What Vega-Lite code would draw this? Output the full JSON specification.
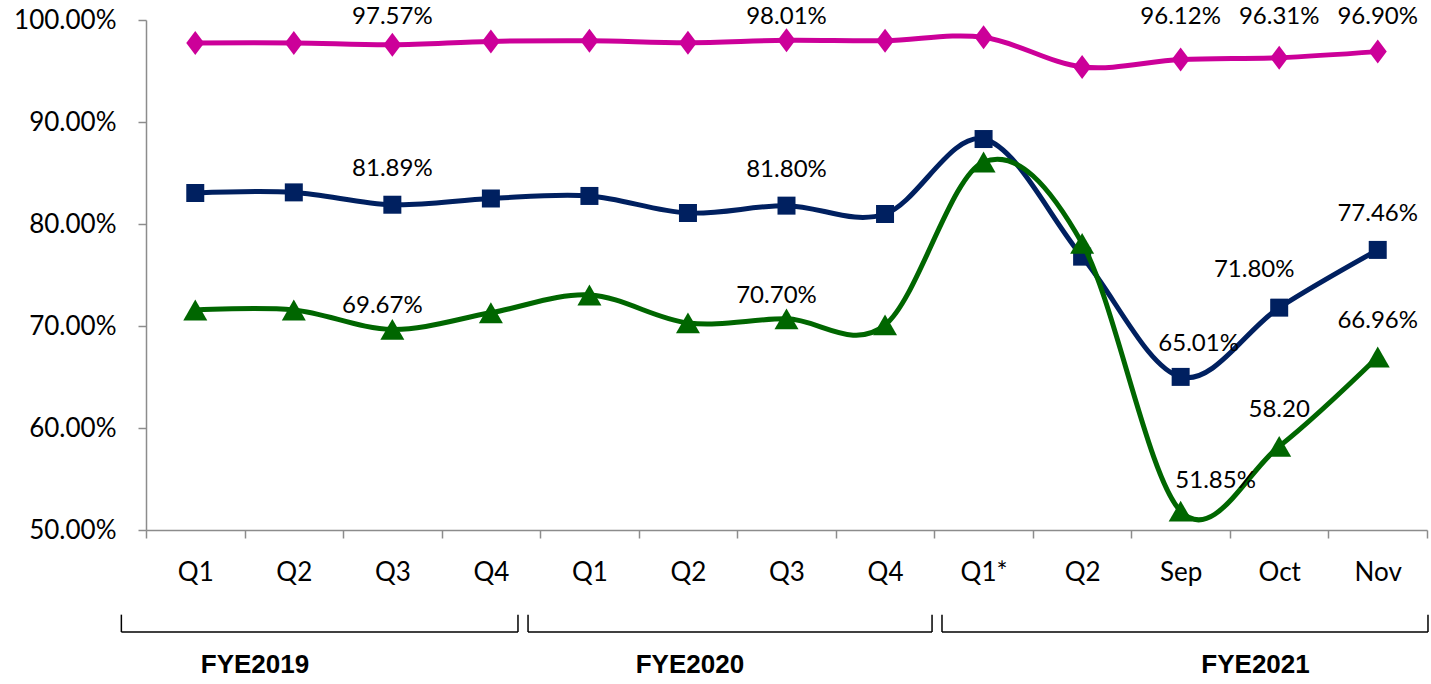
{
  "$schema": "https://vega.github.io/schema/vega-lite/v6.json",
  "width": 1281,
  "height": 510,
  "autosize": "none",
  "padding": {"left": 146, "top": 20, "right": 4, "bottom": 154},
  "background": "white",
  "config": {"view": {"stroke": null}, "font": "Lato"},
  "datasets": {
    "series": [
      {"i": 0.5, "s": "pink", "v": 97.75, "lab": ""},
      {"i": 1.5, "s": "pink", "v": 97.75, "lab": ""},
      {"i": 2.5, "s": "pink", "v": 97.57, "lab": "97.57%"},
      {"i": 3.5, "s": "pink", "v": 97.9, "lab": ""},
      {"i": 4.5, "s": "pink", "v": 97.97, "lab": ""},
      {"i": 5.5, "s": "pink", "v": 97.78, "lab": ""},
      {"i": 6.5, "s": "pink", "v": 98.01, "lab": "98.01%"},
      {"i": 7.5, "s": "pink", "v": 97.97, "lab": ""},
      {"i": 8.5, "s": "pink", "v": 98.3, "lab": ""},
      {"i": 9.5, "s": "pink", "v": 95.4, "lab": ""},
      {"i": 10.5, "s": "pink", "v": 96.12, "lab": "96.12%"},
      {"i": 11.5, "s": "pink", "v": 96.31, "lab": "96.31%"},
      {"i": 12.5, "s": "pink", "v": 96.9, "lab": "96.90%"},
      {"i": 0.5, "s": "navy", "v": 83.04, "lab": ""},
      {"i": 1.5, "s": "navy", "v": 83.1, "lab": ""},
      {"i": 2.5, "s": "navy", "v": 81.89, "lab": "81.89%"},
      {"i": 3.5, "s": "navy", "v": 82.5, "lab": ""},
      {"i": 4.5, "s": "navy", "v": 82.75, "lab": ""},
      {"i": 5.5, "s": "navy", "v": 81.08, "lab": ""},
      {"i": 6.5, "s": "navy", "v": 81.8, "lab": "81.80%"},
      {"i": 7.5, "s": "navy", "v": 80.98, "lab": ""},
      {"i": 8.5, "s": "navy", "v": 88.33, "lab": ""},
      {"i": 9.5, "s": "navy", "v": 76.8, "lab": ""},
      {"i": 10.5, "s": "navy", "v": 65.01, "lab": "65.01%"},
      {"i": 11.5, "s": "navy", "v": 71.8, "lab": "71.80%"},
      {"i": 12.5, "s": "navy", "v": 77.46, "lab": "77.46%"},
      {"i": 0.5, "s": "green", "v": 71.57, "lab": ""},
      {"i": 1.5, "s": "green", "v": 71.57, "lab": ""},
      {"i": 2.5, "s": "green", "v": 69.67, "lab": "69.67%"},
      {"i": 3.5, "s": "green", "v": 71.3, "lab": ""},
      {"i": 4.5, "s": "green", "v": 73.04, "lab": ""},
      {"i": 5.5, "s": "green", "v": 70.3, "lab": ""},
      {"i": 6.5, "s": "green", "v": 70.7, "lab": "70.70%"},
      {"i": 7.5, "s": "green", "v": 70.1, "lab": ""},
      {"i": 8.5, "s": "green", "v": 86.08, "lab": ""},
      {"i": 9.5, "s": "green", "v": 78.1, "lab": ""},
      {"i": 10.5, "s": "green", "v": 51.85, "lab": "51.85%"},
      {"i": 11.5, "s": "green", "v": 58.2, "lab": "58.20"},
      {"i": 12.5, "s": "green", "v": 66.96, "lab": "66.96%"}
    ],
    "brackets": [
      {"i": -0.25, "i2": 3.775, "v": 40, "v2": 40},
      {"i": -0.25, "i2": -0.25, "v": 40, "v2": 41.7},
      {"i": 3.775, "i2": 3.775, "v": 40, "v2": 41.7},
      {"i": 3.877, "i2": 7.977, "v": 40, "v2": 40},
      {"i": 3.877, "i2": 3.877, "v": 40, "v2": 41.7},
      {"i": 7.977, "i2": 7.977, "v": 40, "v2": 41.7},
      {"i": 8.078, "i2": 13.01, "v": 40, "v2": 40},
      {"i": 8.078, "i2": 8.078, "v": 40, "v2": 41.7},
      {"i": 13.01, "i2": 13.01, "v": 40, "v2": 41.7}
    ],
    "groups": [
      {"i": 1.106, "v": 36.76, "name": "FYE2019"},
      {"i": 5.52, "v": 36.76, "name": "FYE2020"},
      {"i": 11.26, "v": 36.76, "name": "FYE2021"}
    ]
  },
  "encoding": {
    "x": {
      "field": "i",
      "type": "quantitative",
      "scale": {"domain": [0, 13], "nice": false, "zero": false},
      "axis": {
        "title": null,
        "grid": false,
        "values": [0, 0.5, 1, 1.5, 2, 2.5, 3, 3.5, 4, 4.5, 5, 5.5, 6, 6.5, 7, 7.5, 8, 8.5, 9, 9.5, 10, 10.5, 11, 11.5, 12, 12.5, 13],
        "domainColor": "#8c8c8c",
        "domainWidth": 1.5,
        "tickColor": "#8c8c8c",
        "tickWidth": 1.5,
        "tickSize": 8,
        "tickOpacity": {"condition": {"test": "datum.value % 1 != 0", "value": 0}, "value": 1},
        "labelExpr": "datum.value % 1 != 0 ? ['Q1','Q2','Q3','Q4','Q1','Q2','Q3','Q4','Q1*','Q2','Sep','Oct','Nov'][floor(datum.value)] : ''",
        "labelFont": "Lato",
        "labelFontSize": 26,
        "labelColor": "#000000",
        "labelPadding": 21,
        "labelOverlap": false,
        "labelFlush": false,
        "labelBound": false
      }
    },
    "y": {
      "field": "v",
      "type": "quantitative",
      "scale": {"domain": [50, 100], "nice": false, "zero": false},
      "axis": {
        "title": null,
        "grid": false,
        "values": [50, 60, 70, 80, 90, 100],
        "labelExpr": "format(datum.value, '.2f') + '%'",
        "domainColor": "#8c8c8c",
        "domainWidth": 1.5,
        "tickColor": "#8c8c8c",
        "tickWidth": 1.5,
        "tickSize": 8,
        "labelFont": "Lato",
        "labelFontSize": 26,
        "labelColor": "#000000",
        "labelPadding": 22,
        "labelOverlap": false,
        "labelFlush": false,
        "labelBound": false
      }
    }
  },
  "layer": [
    {
      "data": {"name": "series"},
      "transform": [{"filter": "datum.s == 'pink'"}],
      "mark": {"type": "line", "interpolate": "cardinal", "strokeWidth": 5, "color": "#CC0099"}
    },
    {
      "data": {"name": "series"},
      "transform": [{"filter": "datum.s == 'pink'"}],
      "mark": {"type": "point", "filled": true, "opacity": 1, "shape": "M0,-1L0.75,0L0,1L-0.75,0Z", "size": 576, "color": "#CC0099"}
    },
    {
      "data": {"name": "series"},
      "transform": [{"filter": "datum.s == 'navy'"}],
      "mark": {"type": "line", "interpolate": "cardinal", "strokeWidth": 5, "color": "#002060"}
    },
    {
      "data": {"name": "series"},
      "transform": [{"filter": "datum.s == 'navy'"}],
      "mark": {"type": "point", "filled": true, "opacity": 1, "shape": "square", "size": 324, "color": "#002060"}
    },
    {
      "data": {"name": "series"},
      "transform": [{"filter": "datum.s == 'green'"}],
      "mark": {"type": "line", "interpolate": "cardinal", "strokeWidth": 5, "color": "#006600"}
    },
    {
      "data": {"name": "series"},
      "transform": [{"filter": "datum.s == 'green'"}],
      "mark": {"type": "point", "filled": true, "opacity": 1, "shape": "triangle-up", "size": 576, "color": "#006600"}
    },
    {
      "data": {"name": "series"},
      "transform": [{"filter": "datum.s == 'pink' && datum.lab != ''"}],
      "mark": {"type": "text", "font": "Lato", "fontSize": 24, "color": "#000000", "baseline": "middle", "align": "center"},
      "encoding": {"y": {"datum": 100.28}, "text": {"field": "lab"}}
    },
    {
      "data": {"name": "series"},
      "transform": [{"filter": "(datum.s == 'navy' && (datum.i == 2.5 || datum.i == 6.5 || datum.i == 12.5)) || (datum.s == 'green' && (datum.i == 11.5 || datum.i == 12.5))"}],
      "mark": {"type": "text", "font": "Lato", "fontSize": 24, "color": "#000000", "baseline": "middle", "align": "center", "dy": -36},
      "encoding": {"text": {"field": "lab"}}
    },
    {
      "data": {"name": "series"},
      "transform": [{"filter": "datum.s == 'green' && (datum.i == 2.5 || datum.i == 6.5)"}],
      "mark": {"type": "text", "font": "Lato", "fontSize": 24, "color": "#000000", "baseline": "middle", "align": "center", "dx": -10, "dy": -23},
      "encoding": {"text": {"field": "lab"}}
    },
    {
      "data": {"name": "series"},
      "transform": [{"filter": "datum.s == 'navy' && datum.i == 10.5"}],
      "mark": {"type": "text", "font": "Lato", "fontSize": 24, "color": "#000000", "baseline": "middle", "align": "center", "dx": 18, "dy": -33},
      "encoding": {"text": {"field": "lab"}}
    },
    {
      "data": {"name": "series"},
      "transform": [{"filter": "datum.s == 'green' && datum.i == 10.5"}],
      "mark": {"type": "text", "font": "Lato", "fontSize": 24, "color": "#000000", "baseline": "middle", "align": "center", "dx": 35, "dy": -30},
      "encoding": {"text": {"field": "lab"}}
    },
    {
      "data": {"name": "series"},
      "transform": [{"filter": "datum.s == 'navy' && datum.i == 11.5"}],
      "mark": {"type": "text", "font": "Lato", "fontSize": 24, "color": "#000000", "baseline": "middle", "align": "center", "dx": -25, "dy": -38},
      "encoding": {"text": {"field": "lab"}}
    },
    {
      "data": {"name": "brackets"},
      "mark": {"type": "rule", "color": "#000000", "strokeWidth": 1.5},
      "encoding": {"x2": {"field": "i2"}, "y2": {"field": "v2"}}
    },
    {
      "data": {"name": "groups"},
      "mark": {"type": "text", "font": "Liberation Sans", "fontWeight": "bold", "fontSize": 26, "color": "#000000", "baseline": "middle", "align": "center"},
      "encoding": {"text": {"field": "name"}}
    }
  ]
}
